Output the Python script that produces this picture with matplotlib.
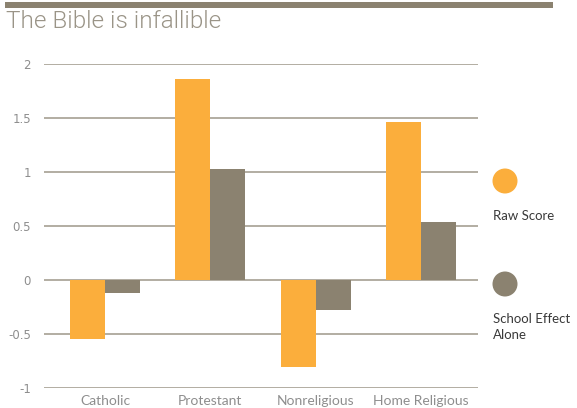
import matplotlib
matplotlib.use("Agg")
import matplotlib.pyplot as plt
import numpy as np

# ── data ──────────────────────────────────────────────────────────────────────
categories = ["Catholic", "Protestant", "Nonreligious", "Home Religious"]
raw_score = [-0.55, 1.86, -0.81, 1.46]
school_effect = [-0.12, 1.03, -0.28, 0.54]
y_ticks = [-1, -0.5, 0, 0.5, 1, 1.5, 2]
y_tick_labels = ["-1", "-0.5", "0", "0.5", "1", "1.5", "2"]

ORANGE = "#FBAE3C"
TAUPE = "#8B8270"
GRID = "#A69F92"
LABEL = "#8E8E8E"

plt.rcParams["font.family"] = ["Lato", "DejaVu Sans"]

fig = plt.figure(figsize=(5.77, 4.08), dpi=100)

# ── top rule + title ──────────────────────────────────────────────────────────
fig.add_artist(plt.Rectangle((5 / 577, 1 - 8 / 408), 548 / 577, 6 / 408,
                             transform=fig.transFigure, color=TAUPE, lw=0))
fig.text(6 / 577, 1 - 22 / 408, "The Bible is infallible", fontsize=17.5,
         family=["Roboto", "DejaVu Sans"], fontweight=300,
         color="#9A9487", va="center", ha="left")

# ── bars ──────────────────────────────────────────────────────────────────────
ax = fig.add_axes([44 / 577, 20 / 408, 434 / 577, 324 / 408])
x = np.arange(len(categories))
w = 0.332
ax.bar(x - w / 2, raw_score, width=w, color=ORANGE, zorder=3)
ax.bar(x + w / 2, school_effect, width=w, color=TAUPE, zorder=3)

ax.set_xlim(-0.58, 3.54)
ax.set_ylim(-1, 2)
ax.set_yticks(y_ticks)
ax.set_yticklabels(y_tick_labels)
ax.set_xticks(x)
ax.set_xticklabels(categories)

for yv in y_ticks:
    ax.axhline(yv, color=GRID, lw=1.2, zorder=1)

for s in ax.spines.values():
    s.set_visible(False)
ax.tick_params(axis="y", length=0, pad=9.5, labelcolor=LABEL)
ax.tick_params(axis="x", length=0, pad=5, labelsize=10, labelcolor=LABEL)
for lbl in ax.get_yticklabels():
    lbl.set_fontfamily(["DejaVu Sans"])
    lbl.set_fontsize(8.5)

# ── legend (circles + labels) ────────────────────────────────────────────────
fig.add_artist(matplotlib.patches.Ellipse((505 / 577, 1 - 181 / 408), 25 / 577, 25 / 408,
                                          transform=fig.transFigure, color=ORANGE, lw=0))
fig.text(493 / 577, 1 - 216 / 408, "Raw Score", fontsize=9.5, color="#3A3A3A",
         va="center", ha="left")
fig.add_artist(matplotlib.patches.Ellipse((505 / 577, 1 - 284 / 408), 25 / 577, 25 / 408,
                                          transform=fig.transFigure, color=TAUPE, lw=0))
fig.text(493 / 577, 1 - 327 / 408, "School Effect\nAlone", fontsize=9.5, color="#3A3A3A",
         va="center", ha="left", linespacing=1.35)

fig.savefig("out.png", dpi=100)
